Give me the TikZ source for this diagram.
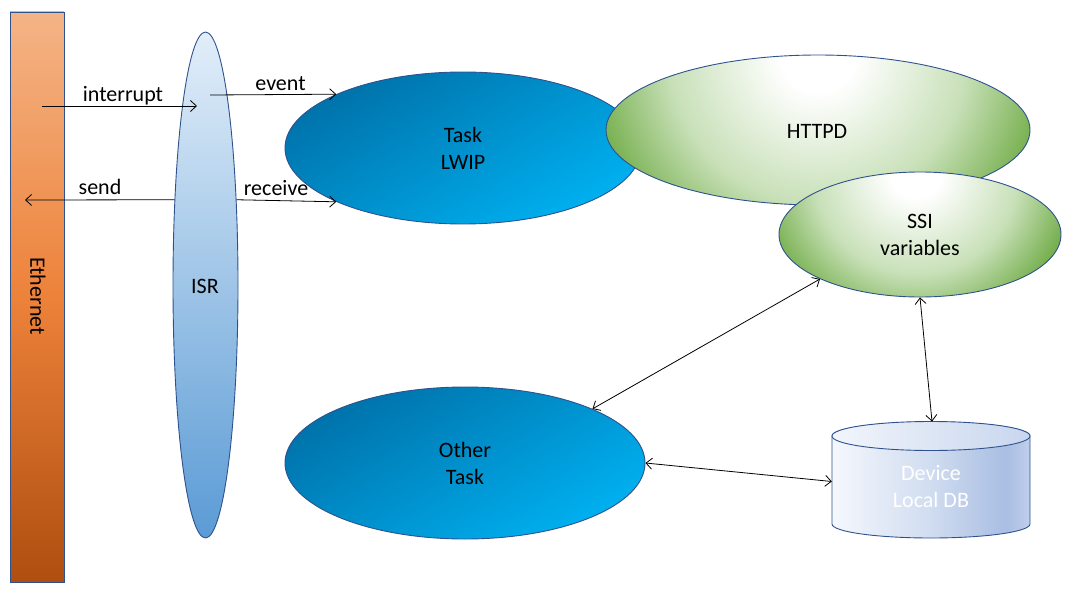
\documentclass[tikz,border=0pt]{standalone}
\usepackage{fontspec}
\setmainfont{Carlito}
\usetikzlibrary{shapes.geometric,arrows.meta,calc}
\definecolor{bord}{HTML}{2F528F}
\definecolor{taskdark}{HTML}{0072AA}
\definecolor{tasklight}{HTML}{00B0F0}
\definecolor{isrtop}{HTML}{E2EEF9}
\definecolor{isrbot}{HTML}{5B9BD5}
\pgfdeclareverticalshading{ethsh}{100bp}{color(0bp)=(rgb,255:red,174;green,78;blue,16); color(25bp)=(rgb,255:red,174;green,78;blue,16); color(50bp)=(rgb,255:red,237;green,130;blue,58); color(75bp)=(rgb,255:red,244;green,180;blue,134); color(100bp)=(rgb,255:red,244;green,180;blue,134)}
\pgfdeclareradialshading{greensh}{\pgfpoint{0bp}{0bp}}{color(0bp)=(white); color(2bp)=(white); color(8bp)=(rgb,255:red,200;green,224;blue,184); color(12.5bp)=(rgb,255:red,116;green,174;blue,75); color(50bp)=(rgb,255:red,116;green,174;blue,75)}
\pgfdeclarehorizontalshading{dbsh}{100bp}{color(0bp)=(rgb,255:red,245;green,248;blue,253); color(25bp)=(rgb,255:red,245;green,248;blue,253); color(50bp)=(rgb,255:red,208;green,220;blue,240); color(69bp)=(rgb,255:red,169;green,190;blue,227); color(75bp)=(rgb,255:red,192;green,207;blue,235); color(100bp)=(rgb,255:red,192;green,207;blue,235)}
\pgfdeclarehorizontalshading{dbtopsh}{100bp}{color(0bp)=(rgb,255:red,242;green,245;blue,251); color(25bp)=(rgb,255:red,242;green,245;blue,251); color(75bp)=(rgb,255:red,200;green,214;blue,238); color(100bp)=(rgb,255:red,200;green,214;blue,238)}
\begin{document}
\begin{tikzpicture}[x=1pt,y=1pt,
  font=\fontsize{22}{27}\selectfont,
  blob/.style={ellipse, draw=bord, line width=0.9pt, inner sep=0pt, align=center},
  taskblob/.style={blob, top color=taskdark, bottom color=tasklight, shading angle=30},
  greenblob/.style 2 args={blob, path picture={\shade[shading=greensh] ($(path picture bounding box.north)+(#1,0)$) circle[radius=2*#2];}},
  tip/.tip={Straight Barb[length=6pt,width=11pt,line width=0.8pt]},
  conn/.style={draw=black, line width=0.8pt, -tip},
  biconn/.style={draw=black, line width=0.8pt, tip-tip},
  lab/.style={anchor=base, inner sep=0pt}
]
\useasboundingbox (0,0) rectangle (1073,-594);

% Ethernet bar
\node[draw=bord, line width=0.9pt, shade, shading=ethsh, minimum width=54pt, minimum height=570pt, inner sep=0pt] (eth) at (37,-297) {};
\node[rotate=-90, inner sep=0pt] (ethlab) at (38,-296) {Ethernet};

% ISR
\node[blob, top color=isrtop, bottom color=isrbot, minimum width=65pt, minimum height=506pt] (isr) at (205.5,-285) {};
\node[lab] (isrlab) at (205,-293.3) {ISR};

% Task LWIP
\node[taskblob, minimum width=356pt, minimum height=152pt] (task) at (463,-148) {Task\\LWIP};

% HTTPD
\node[greenblob={0pt}{232pt}, minimum width=424pt, minimum height=150pt] (httpd) at (818,-130) {};
\node[lab] (httpdlab) at (817,-138.3) {HTTPD};

% SSI variables
\node[greenblob={-4pt}{160pt}, minimum width=282pt, minimum height=125pt] (ssi) at (920,-234.5) {SSI\\variables};

% Other Task
\node[taskblob, minimum width=360pt, minimum height=152pt] (ot) at (465,-463) {Other\\Task};

% Device Local DB (cylinder)
\path[shade, shading=dbsh, draw=bord, line width=0.9pt] (832,-436) -- (832,-524) arc[start angle=180, end angle=360, x radius=99, y radius=14] -- (1030,-436) arc[start angle=0, end angle=180, x radius=99, y radius=14] -- cycle;
\path[shade, shading=dbtopsh, draw=bord, line width=0.9pt] (931,-436) ellipse[x radius=99, y radius=14.5];
\node[minimum width=198pt, minimum height=101pt, inner sep=0pt, text=white, align=center] (db) at (931,-487) {Device\\Local DB};
\coordinate (dbtop) at (932,-421.5);

% connectors
\coordinate (intS) at (42,-106);
\coordinate (intE) at (197,-106);
\coordinate (evS) at (210,-95);
\coordinate (sendE) at (25,-200);

\draw[conn] (intS) -- (intE);
\draw[conn] (evS) -- (task.157);
\draw[conn] (isr.110) -- (sendE);
\draw[conn] (isr.70) -- (task.203);
\draw[biconn] (ssi.204) -- (ot.23);
\draw[biconn] (ssi.south) -- (dbtop);
\draw[biconn] (ot.east) -- ($(db.west)+(0,5.5)$);

% labels
\node[lab] (lint) at (123,-101.7) {interrupt};
\node[lab] (lev) at (280.5,-90.7) {event};
\node[lab] (lsend) at (100,-194.3) {send};
\node[lab] (lrec) at (276,-195) {receive};
\end{tikzpicture}
\end{document}
